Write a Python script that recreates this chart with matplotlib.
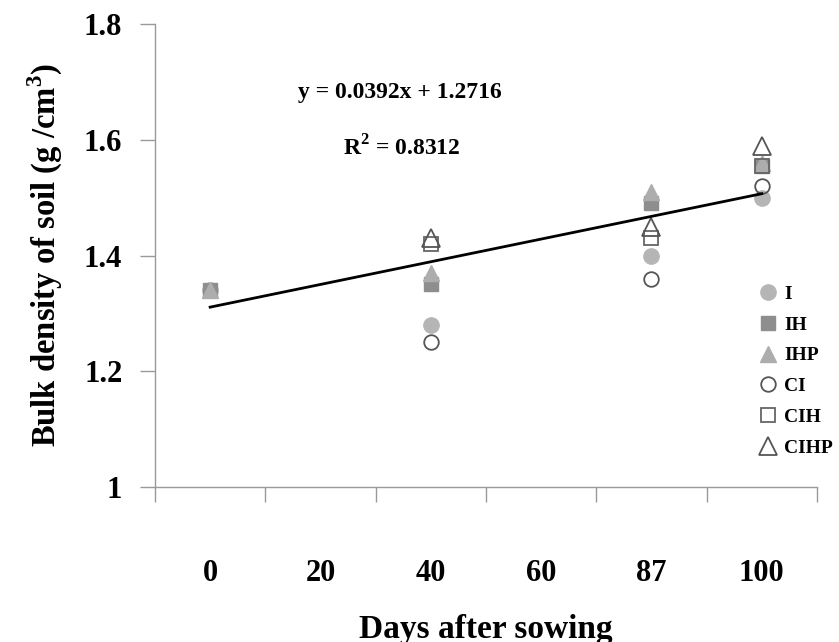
import matplotlib
matplotlib.use("Agg")
import matplotlib.pyplot as plt
import numpy as np

plt.rcParams['font.family'] = ['Liberation Serif', 'DejaVu Serif']
plt.rcParams['font.weight'] = 'bold'
plt.rcParams['mathtext.fontset'] = 'custom'
plt.rcParams['mathtext.rm'] = 'Liberation Serif:bold'
plt.rcParams['mathtext.bf'] = 'Liberation Serif:bold'

categories = ["0", "20", "40", "60", "87", "100"]
cat_pos = [1, 2, 3, 4, 5, 6]
sample_pos = [1, 3, 5, 6]  # positions of days 0, 40, 87, 100

series_names = ["I", "IH", "IHP", "CI", "CIH", "CIHP"]
nan = float('nan')
I_vals = [1.34, 1.28, 1.40, 1.50]
IH_vals = [1.34, 1.35, 1.49, 1.555]
IHP_vals = [1.34, 1.37, 1.51, 1.56]
CI_vals = [nan, 1.25, 1.36, 1.52]
CIH_vals = [nan, 1.42, 1.43, 1.555]
CIHP_vals = [nan, 1.43, 1.45, 1.59]

slope = 0.0392
intercept = 1.2716
r2 = 0.8312

fig = plt.figure(figsize=(8.39, 6.42), dpi=100)
ax = fig.add_axes([0.1847, 0.2414, 0.789, 0.7212])

styles = [
    (I_vals, dict(marker='o', color='#b5b5b5', mec='#b5b5b5', ms=11)),
    (IH_vals, dict(marker='s', color='#8e8e8e', mec='#8e8e8e', ms=10)),
    (IHP_vals, dict(marker='^', color='#adadad', mec='#adadad', ms=12)),
    (CI_vals, dict(marker='o', color='none', mfc='none', mec='#555555', mew=1.3, ms=10.5)),
    (CIH_vals, dict(marker='s', color='none', mfc='none', mec='#666666', mew=1.3, ms=10)),
    (CIHP_vals, dict(marker='^', color='none', mfc='none', mec='#555555', mew=1.3, ms=12.5)),
]
handles = []
for (vals, st), name in zip(styles, series_names):
    h, = ax.plot(sample_pos, vals, linestyle='none', label=name, **st)
    handles.append(h)

xl = np.array([cat_pos[0], cat_pos[-1]])
ax.plot(xl, slope * xl + intercept, color='black', lw=2)

ax.set_xlim(0.5, 6.5)
ax.set_ylim(1.0, 1.8)
ax.set_yticks([1.0, 1.2, 1.4, 1.6, 1.8])
ax.set_yticklabels(["1", "1.2", "1.4", "1.6", "1.8"], fontsize=22, fontweight='bold')

ax.set_xticks(np.arange(0.5, 7.0, 1.0))
ax.set_xticklabels([])
ax.set_xticks(cat_pos, minor=True)
ax.set_xticklabels(categories, minor=True, fontsize=22, fontweight='bold')
ax.tick_params(axis='x', which='minor', length=0, pad=52)
ax.tick_params(axis='x', which='major', length=11, color='#999999', width=1)
ax.tick_params(axis='y', length=10.5, color='#999999', width=1, pad=13)

for s in ['top', 'right']:
    ax.spines[s].set_visible(False)
for s in ['left', 'bottom']:
    ax.spines[s].set_color('#999999')
    ax.spines[s].set_linewidth(1)

ax.set_xlabel("Days after sowing", fontsize=24, fontweight='bold')
ax.xaxis.set_label_coords(0.5, -0.274)
ax.set_ylabel(r"Bulk density of soil (g /cm$^{\mathbf{3}}$)", fontsize=23.5, fontweight='bold', labelpad=14)

ax.text(0.37, 0.853, "y = 0.0392x + 1.2716", transform=ax.transAxes,
        ha='center', va='center', fontsize=17, fontweight='bold')
ax.text(0.373, 0.733, r"R$^{\mathbf{2}}$ = 0.8312", transform=ax.transAxes,
        ha='center', va='center', fontsize=17, fontweight='bold')

leg = ax.legend(handles=handles, loc='upper left', bbox_to_anchor=(0.912, 0.436),
                frameon=False, handletextpad=0.3, labelspacing=0.68,
                handlelength=1.0, borderaxespad=0, borderpad=0,
                prop={'weight': 'bold', 'size': 14, 'family': 'Liberation Serif'})

fig.savefig("out.png", dpi=100)
